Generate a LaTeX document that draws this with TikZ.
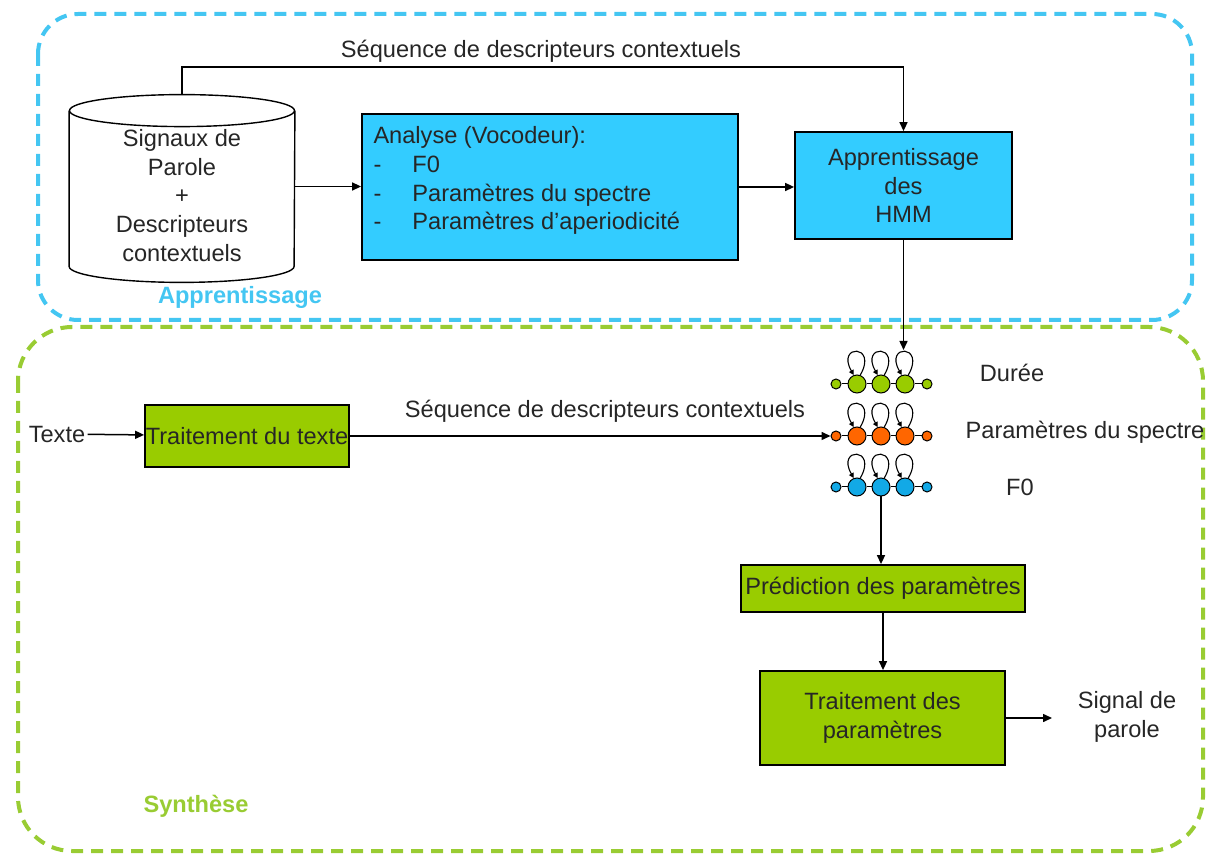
\documentclass[tikz,border=0pt]{standalone}
\usepackage{fontspec}
\setmainfont{Liberation Sans}
\usetikzlibrary{positioning,shapes.geometric,arrows.meta}

\definecolor{boxcyan}{HTML}{33CCFF}
\definecolor{boxgreen}{HTML}{99CC00}
\definecolor{dashblue}{HTML}{44C6F2}
\definecolor{dashgreen}{HTML}{99CC33}
\definecolor{stgreen}{HTML}{99CC00}
\definecolor{storange}{HTML}{FF6600}
\definecolor{stblue}{HTML}{12A9E6}

\begin{document}
\begin{tikzpicture}[
    x=0.5pt, y=-0.5pt,
    every node/.style={font=\fontsize{11.8}{14.4}\selectfont, text=black!85, align=center},
    box/.style={draw, line width=0.9pt, inner sep=0pt},
    bluebox/.style={box, fill=boxcyan},
    greenbox/.style={box, fill=boxgreen},
    zone/.style={line width=2pt, dash pattern=on 6pt off 4pt},
    zonelabel/.style={font=\fontsize{11.8}{14.4}\selectfont\bfseries},
    arr/.style={-{Triangle[length=4.5pt,width=4pt]}, line width=0.75pt},
    bigst/.style={circle, draw, line width=0.5pt, minimum size=9pt, inner sep=0pt},
    smallst/.style={circle, draw, line width=0.5pt, minimum size=5pt, inner sep=0pt},
    selfloop/.style={-{Triangle[length=2.5pt,width=2.5pt]}, line width=0.55pt}
]
\useasboundingbox (0,0) rectangle (1208,854);

% zones
\draw[zone, dashblue, rounded corners=20pt] (38,14) rectangle (1192,320);
\draw[zone, dashgreen, rounded corners=27pt] (18,327) rectangle (1203,851);

% apprentissage
\node[minimum width=112.5pt, minimum height=93.5pt, inner sep=0pt] (db) at (182,188.5) {};
\draw[line width=0.7pt] ([yshift=-8pt]db.north) ellipse [x radius=56.25pt, y radius=8pt];
\draw[line width=0.7pt] ([yshift=-8pt]db.north west) -- ([yshift=8pt]db.south west)
      arc[start angle=180, end angle=360, x radius=56.25pt, y radius=8pt]
      -- ([yshift=-8pt]db.north east);
\node[inner sep=0pt] (dbtxt) at ([yshift=-3.5pt]db.center)
      {Signaux de\\Parole\\+\\Descripteurs\\contextuels};
\node[bluebox, minimum width=188pt, minimum height=73pt] (ana) at (550,187) {};
\node[anchor=north west, align=left, inner sep=0pt] (anatxt) at ([xshift=6pt,yshift=-6.5pt]ana.north west)
      {Analyse (Vocodeur):\\
       \makebox[19.5pt][l]{-}F0\\
       \makebox[19.5pt][l]{-}Paramètres du spectre\\
       \makebox[19.5pt][l]{-}Paramètres d’aperiodicité};
\node[bluebox, minimum width=108.5pt, minimum height=53.5pt] (hmm) at (903.5,185.5) {Apprentissage\\des\\HMM};
\node[zonelabel, text=dashblue] (appr) at (240,297) {Apprentissage};
\node (seqtop) at (541,51) {Séquence de descripteurs contextuels};

\coordinate (seqline) at (541,67);
\draw[arr] (db.north) |- (seqline) -| (hmm.north);
\draw[arr] ([yshift=1pt]db.east) -- ([yshift=1pt]db.east -| ana.west);
\draw[arr] (ana.east) -- (ana.east -| hmm.west);

% synthese
\node[inner sep=1pt] (texte) at (57,434) {Texte};
\node[greenbox, minimum width=102pt, minimum height=31pt] (trt) at (247,436) {Traitement du texte};
\draw[arr] (texte) -- (trt);

% chaines HMM
\foreach \row/\yy/\col in {dur/384/stgreen, spec/436/storange, fz/487/stblue}{
  \node[smallst, fill=\col] (\row0) at (836,\yy) {};
  \foreach \i/\xx in {1/857, 2/881, 3/905}
    \node[bigst, fill=\col] (\row\i) at (\xx,\yy) {};
  \node[smallst, fill=\col] (\row4) at (927,\yy) {};
  \draw[line width=0.5pt] (\row0) -- (\row1) -- (\row2) -- (\row3) -- (\row4);
  \foreach \i in {1,2,3}
    \draw[selfloop] (\row\i.70) .. controls +(60:18pt) and +(120:18pt) .. (\row\i.110);
}
\node (dur) at (1012,373) {Durée};
\node (spec) at (1085,432) {Paramètres du spectre};
\node (fz) at (1020,487) {F0};

\coordinate (hmmin) at (903.5,350);
\draw[arr] (hmm.south) -- (hmmin);
\node (seqbot) at (605,411) {Séquence de descripteurs contextuels};
\draw[arr] (trt.east) -- (spec0.west);

\node[greenbox, minimum width=142pt, minimum height=23.5pt] (pred) at (883,588.5) {Prédiction des paramètres};
\node[greenbox, minimum width=122.5pt, minimum height=47pt] (tp) at (882.5,718) {Traitement des\\paramètres};
\draw[arr] (fz2) -- (fz2 |- pred.north);
\draw[arr] (pred.south) -- (pred.south |- tp.north);

\coordinate (sigin) at (1052,718);
\draw[arr] (tp.east) -- (sigin);
\node (sig) at (1127,717) {Signal de\\parole};
\node[zonelabel, text=dashgreen] (synth) at (196,806) {Synthèse};

\end{tikzpicture}
\end{document}
